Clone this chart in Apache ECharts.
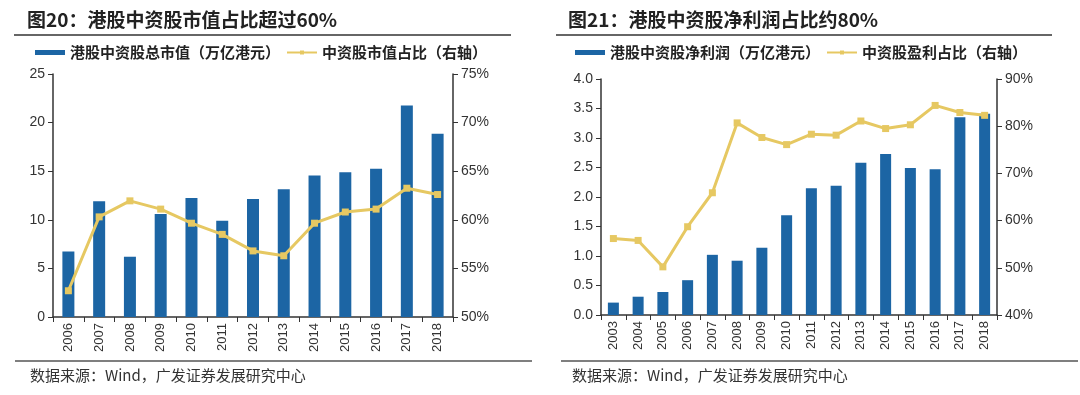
<!DOCTYPE html>
<html>
<head>
<meta charset="utf-8">
<script src="https://cdn.jsdelivr.net/npm/echarts@6/dist/echarts.min.js"></script>
<style>html,body{margin:0;padding:0;background:#fff}#c{width:1080px;height:395px}</style>
</head>
<body>
<div id="c"></div>
<script>
// ---- Data ----
const yearsL = ['2006','2007','2008','2009','2010','2011','2012','2013','2014','2015','2016','2017','2018'];
const mktCap = [6.75, 11.9, 6.2, 10.6, 12.25, 9.9, 12.15, 13.15, 14.55, 14.9, 15.25, 21.75, 18.85];
const mktShare = [52.7, 60.3, 61.95, 61.1, 59.65, 58.5, 56.8, 56.3, 59.65, 60.8, 61.1, 63.25, 62.6];

const yearsR = ['2003','2004','2005','2006','2007','2008','2009','2010','2011','2012','2013','2014','2015','2016','2017','2018'];
const profit = [0.21, 0.31, 0.39, 0.59, 1.02, 0.92, 1.14, 1.69, 2.15, 2.19, 2.58, 2.73, 2.49, 2.47, 3.35, 3.41];
const profitShare = [56.2, 55.8, 50.2, 58.7, 65.9, 80.7, 77.6, 76.1, 78.3, 78.1, 81.1, 79.5, 80.3, 84.4, 82.9, 82.3];

const titleL = '图20：港股中资股市值占比超过60%';
const titleR = '图21：港股中资股净利润占比约80%';
const nameBarL = '港股中资股总市值（万亿港元）';
const nameLineL = '中资股市值占比（右轴）';
const nameBarR = '港股中资股净利润（万亿港元）';
const nameLineR = '中资股盈利占比（右轴）';
const source = '数据来源：Wind，广发证券发展研究中心';

// ---- Style ----
const BLUE = '#1c65a4';
const GOLD = '#e6c862';
const AX = '#333333';
const FONT = 'Arial, "Liberation Sans", "Noto Sans CJK SC", sans-serif';
const CJK = '"Noto Sans CJK SC", sans-serif';

const chart = echarts.init(document.getElementById('c'), null, {renderer: 'canvas'});

function xAx(idx, data) {
  return {
    type: 'category', gridIndex: idx, data: data, boundaryGap: true,
    axisLine: {lineStyle: {color: AX, width: 1.5}},
    axisTick: {show: true, alignWithLabel: false, length: 5, lineStyle: {color: AX}},
    axisLabel: {interval: 0, rotate: 90, color: '#333', fontSize: 13, fontFamily: FONT, margin: 6}
  };
}
function yAx(idx, pos, min, max, interval, fmt) {
  return {
    type: 'value', gridIndex: idx, position: pos, min: min, max: max, interval: interval,
    splitLine: {show: false},
    axisLine: {show: true, lineStyle: {color: AX, width: 1.5}},
    axisTick: {show: true, length: 5, lineStyle: {color: AX}},
    axisLabel: {color: '#333', fontSize: 14, fontFamily: FONT, margin: 8, formatter: fmt}
  };
}

const legendText = {fontSize: 15, fontWeight: 'bold', color: '#222', fontFamily: CJK};

chart.setOption({
  animation: false,
  backgroundColor: '#fff',
  grid: [
    {left: 53, top: 74, width: 400, height: 243},
    {left: 601, top: 79, width: 396, height: 236}
  ],
  legend: [
    {left: 30, top: 40, itemGap: 6, itemWidth: 30, itemHeight: 5, textStyle: legendText,
     data: [{name: nameBarL, icon: 'rect'}, nameLineL]},
    {left: 570, top: 40, itemGap: 6, itemWidth: 30, itemHeight: 5, textStyle: legendText,
     data: [{name: nameBarR, icon: 'rect'}, nameLineR]}
  ],
  xAxis: [xAx(0, yearsL), xAx(1, yearsR)],
  yAxis: [
    yAx(0, 'left', 0, 25, 5, '{value}'),
    yAx(0, 'right', 50, 75, 5, '{value}%'),
    yAx(1, 'left', 0, 4, 0.5, v => v.toFixed(1)),
    yAx(1, 'right', 40, 90, 10, '{value}%')
  ],
  series: [
    {name: nameBarL, type: 'bar', xAxisIndex: 0, yAxisIndex: 0, data: mktCap, barWidth: 12,
     itemStyle: {color: BLUE}},
    {name: nameLineL, type: 'line', xAxisIndex: 0, yAxisIndex: 1, data: mktShare,
     symbol: 'rect', symbolSize: 7, lineStyle: {color: GOLD, width: 3},
     itemStyle: {color: GOLD}},
    {name: nameBarR, type: 'bar', xAxisIndex: 1, yAxisIndex: 2, data: profit, barWidth: 11,
     itemStyle: {color: BLUE}},
    {name: nameLineR, type: 'line', xAxisIndex: 1, yAxisIndex: 3, data: profitShare,
     symbol: 'rect', symbolSize: 7, lineStyle: {color: GOLD, width: 3},
     itemStyle: {color: GOLD}}
  ],
  graphic: [
    {type: 'text', left: 27, top: 10, style: {text: titleL, fill: '#222', font: 'bold 19px ' + CJK}},
    {type: 'text', left: 568, top: 10, style: {text: titleR, fill: '#222', font: 'bold 19px ' + CJK}},
    {type: 'line', shape: {x1: 14, y1: 35, x2: 511, y2: 35}, style: {stroke: '#333', lineWidth: 1.5}},
    {type: 'line', shape: {x1: 556, y1: 35, x2: 1052, y2: 35}, style: {stroke: '#333', lineWidth: 1.5}},
    {type: 'line', shape: {x1: 15, y1: 361, x2: 532, y2: 361}, style: {stroke: '#555', lineWidth: 1.5}},
    {type: 'line', shape: {x1: 561, y1: 361, x2: 1078, y2: 361}, style: {stroke: '#555', lineWidth: 1.5}},
    {type: 'text', left: 30, top: 368, style: {text: source, fill: '#333', font: '15px ' + CJK}},
    {type: 'text', left: 572, top: 368, style: {text: source, fill: '#333', font: '15px ' + CJK}}
  ]
});
</script>
</body>
</html>
